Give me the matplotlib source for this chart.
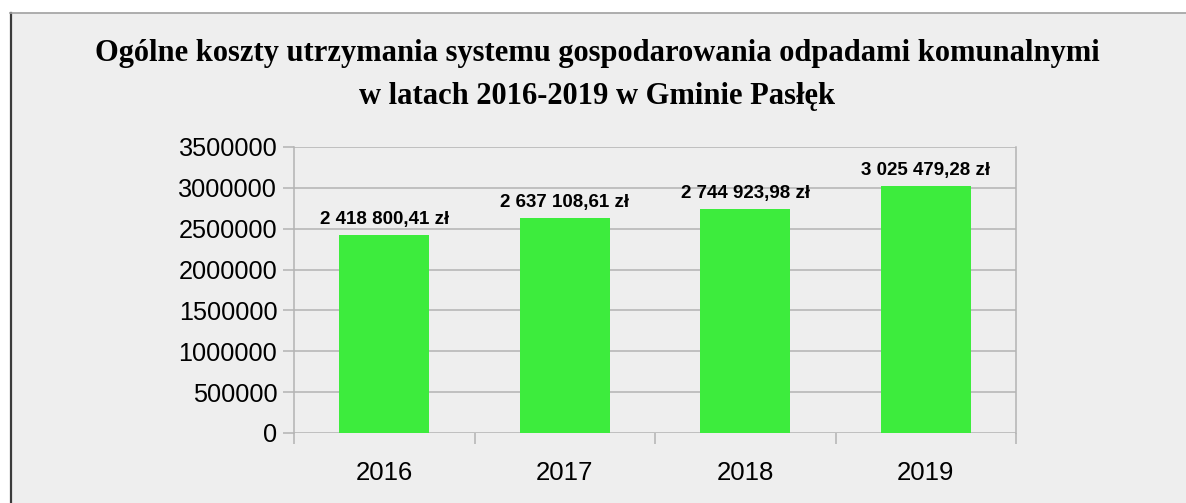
import matplotlib
matplotlib.use("Agg")
import matplotlib.pyplot as plt
from matplotlib.patches import Rectangle
from matplotlib.lines import Line2D
import numpy as np

years = ["2016", "2017", "2018", "2019"]
costs = [2418800.41, 2637108.61, 2744923.98, 3025479.28]
labels = ["2 418 800,41 zł", "2 637 108,61 zł", "2 744 923,98 zł", "3 025 479,28 zł"]
yticks = [0, 500000, 1000000, 1500000, 2000000, 2500000, 3000000, 3500000]
title = "Ogólne koszty utrzymania systemu gospodarowania odpadami komunalnymi\nw latach 2016-2019 w Gminie Pasłęk"

W, H = 1186, 503
fig = plt.figure(figsize=(W / 100, H / 100), dpi=100, facecolor="white")

# chart background panel with frame
fig.patches.append(Rectangle((11 / W, 0), 1 - 11 / W, (H - 13) / H, transform=fig.transFigure,
                             facecolor="#eeeeee", edgecolor="none", zorder=-5))
fig.add_artist(Line2D([10.5 / W, 10.5 / W], [0, (H - 13) / H], transform=fig.transFigure,
                      color="#3a3a3a", lw=1.6, zorder=-4))
fig.add_artist(Line2D([10 / W, 1], [(H - 13) / H, (H - 13) / H], transform=fig.transFigure,
                      color="#a0a0a0", lw=1.2, zorder=-4))

ax = fig.add_axes([294 / W, (H - 433) / H, (1016 - 294) / W, (433 - 147) / H])
ax.set_facecolor("none")
x = np.arange(len(years))
ax.bar(x, costs, width=0.5, color="#3dec3d", zorder=3)
ax.set_ylim(0, 3500000)
ax.set_xlim(-0.5, len(years) - 0.5)
ax.set_yticks(yticks)
ax.set_yticklabels([str(v) for v in yticks], fontsize=18.2, family="Liberation Sans")
ax.yaxis.grid(True, color="#b3b3b3", lw=1.1, zorder=0)
ax.set_axisbelow(True)
ax.set_xticks(np.arange(-0.5, len(years)), minor=False)
ax.set_xticklabels([])
ax.set_xticks(x, minor=True)
ax.set_xticklabels(years, minor=True, fontsize=18.5, family="Liberation Sans")
ax.tick_params(axis="x", which="major", length=8, color="#b3b3b3", width=1.1)
ax.tick_params(axis="x", which="minor", length=0, pad=20)
ax.tick_params(axis="y", length=8, color="#b3b3b3", width=1.1, pad=4)
for s in ["top", "bottom"]:
    ax.spines[s].set_visible(False)
for s in ["left", "right"]:
    ax.spines[s].set_color("#b3b3b3")
    ax.spines[s].set_linewidth(1.1)
    ax.spines[s].set_bounds(0, 3500000)

for xi, v, lab in zip(x, costs, labels):
    ax.annotate(lab, (xi, v), xytext=(0, 5), textcoords="offset points", ha="center", va="bottom",
                fontsize=13.5, fontweight="bold", family="Liberation Sans")

fig.text(597 / W, 1 - 75 / H, title, ha="center", va="center", fontsize=22, fontweight="bold",
         family="Liberation Serif", linespacing=1.62)

fig.savefig("out.png", dpi=100)
